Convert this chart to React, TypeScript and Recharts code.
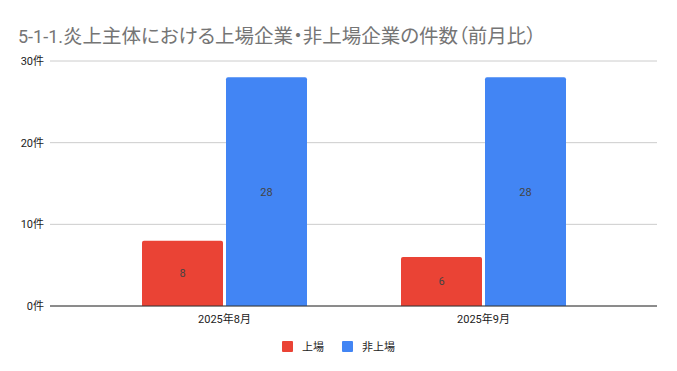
import { BarChart, Bar, XAxis, YAxis, CartesianGrid, LabelList } from 'recharts'

const months = ['2025年8月', '2025年9月']
const listed = [8, 6]
const unlisted = [28, 28]
const yTicks = [0, 10, 20, 30]

const series = [
  { key: 'listed', name: '上場', color: '#EA4335' },
  { key: 'unlisted', name: '非上場', color: '#4285F4' },
]

const data = months.map((m, i) => ({ month: m, listed: listed[i], unlisted: unlisted[i] }))

const font = "Roboto, 'Noto Sans CJK JP', sans-serif"

export default function App() {
  return (
    <div style={{ position: 'absolute', left: 0, top: 0, width: 677, height: 371, background: '#fff', fontFamily: font }}>
      <div style={{ position: 'absolute', left: 18, top: 20, fontSize: 18, color: '#757575', whiteSpace: 'nowrap' }}>
        5-1-1.
        <span style={{ fontSize: 19.5, fontFeatureSettings: '"palt"' }}>
          炎上主体における上場企業・非上場企業の件数（前月比）
        </span>
      </div>
      <BarChart
        width={677}
        height={371}
        data={data}
        margin={{ top: 61, right: 20, left: 0, bottom: 45 }}
        barCategoryGap={47}
        barGap={3}
      >
        <CartesianGrid vertical={false} stroke="#cccccc" />
        <XAxis
          dataKey="month"
          height={20}
          padding={{ left: 45, right: 44 }}
          tickLine={false}
          tickMargin={3}
          axisLine={{ stroke: '#333333' }}
          tick={{ fontSize: 11, fill: '#222', fontFamily: font }}
        />
        <YAxis
          width={50}
          domain={[0, 30]}
          ticks={yTicks}
          tickLine={false}
          axisLine={false}
          tickMargin={0}
          tickFormatter={(v) => `${v}件`}
          tick={{ fontSize: 11, fill: '#222', fontFamily: font }}
        />
        {series.map((s) => (
          <Bar key={s.key} dataKey={s.key} name={s.name} fill={s.color} radius={[2, 2, 0, 0]} isAnimationActive={false}>
            <LabelList dataKey={s.key} position="center" fill="#444" fontSize={11} fontFamily={font} />
          </Bar>
        ))}
      </BarChart>
      <div style={{ position: 'absolute', top: 338, left: 0, width: 677, display: 'flex', justifyContent: 'center', gap: 18, fontSize: 11, color: '#222' }}>
        {series.map((s) => (
          <div key={s.key} style={{ display: 'flex', alignItems: 'center' }}>
            <span style={{ display: 'inline-block', width: 11, height: 11, background: s.color, borderRadius: 1, marginRight: 9 }} />
            <span>{s.name}</span>
          </div>
        ))}
      </div>
    </div>
  )
}
